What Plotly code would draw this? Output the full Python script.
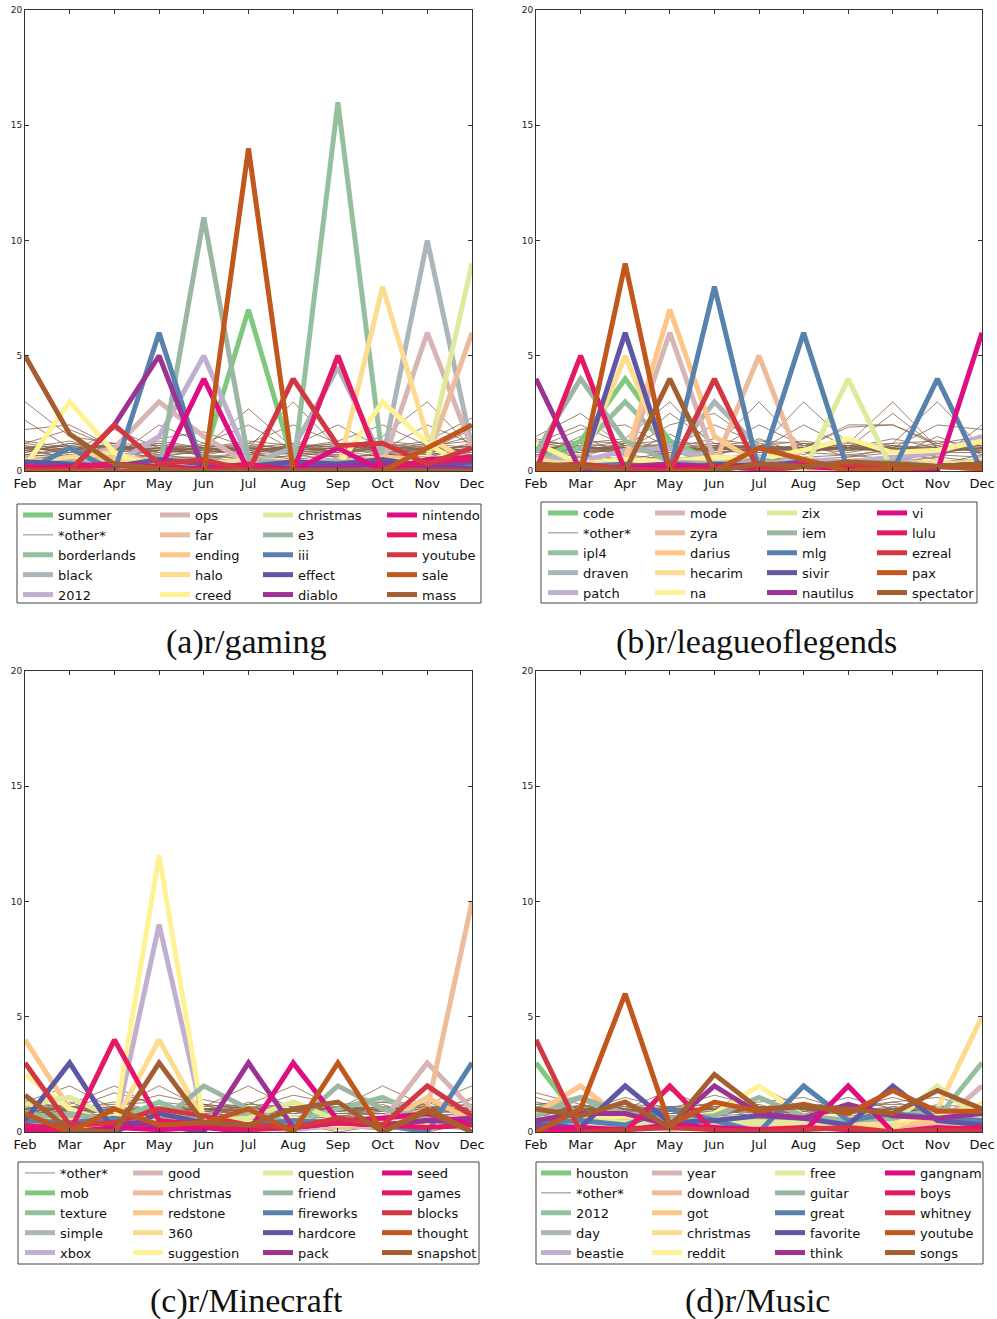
import plotly.graph_objects as go

W, H = 997, 1319

months = ["Feb", "Mar", "Apr", "May", "Jun", "Jul", "Aug", "Sep", "Oct", "Nov", "Dec"]

# ---------------- r/gaming ----------------
gaming_keywords = ["summer", "borderlands", "black", "2012", "ops", "far", "ending", "halo",
                   "creed", "christmas", "e3", "iii", "effect", "diablo", "nintendo", "mesa",
                   "youtube", "sale", "mass"]
gaming_values = [
    [0.2, 0.5, 0.3, 0.0, 0.6, 7.0, 0.4, 0.0, 0.2, 0.0, 0.0],
    [0.3, 0.2, 0.0, 0.4, 0.5, 0.3, 0.0, 16.0, 0.5, 0.2, 0.0],
    [0.3, 0.2, 0.0, 0.3, 0.2, 0.3, 1.0, 4.5, 0.5, 10.0, 1.0],
    [0.1, 0.2, 0.3, 1.5, 5.0, 0.5, 0.3, 0.2, 0.4, 0.3, 0.2],
    [0.3, 0.5, 1.0, 3.0, 1.5, 0.3, 0.2, 0.5, 0.3, 6.0, 1.0],
    [0.2, 0.3, 0.1, 0.2, 0.3, 0.2, 0.1, 0.3, 0.2, 0.5, 6.0],
    [0.5, 0.3, 0.6, 0.4, 0.3, 0.5, 0.4, 0.3, 0.6, 0.5, 0.4],
    [0.3, 0.6, 0.8, 0.2, 0.4, 0.3, 0.2, 0.0, 8.0, 1.5, 0.3],
    [0.2, 3.0, 0.8, 0.0, 0.2, 0.3, 0.4, 0.2, 3.0, 1.2, 0.0],
    [0.3, 0.2, 0.4, 0.3, 0.2, 0.5, 0.3, 0.2, 0.4, 0.5, 9.0],
    [0.2, 0.4, 0.3, 0.0, 11.0, 0.5, 0.3, 0.4, 0.2, 0.3, 0.2],
    [0.0, 1.0, 0.0, 6.0, 0.0, 0.2, 0.3, 0.2, 0.1, 0.2, 0.3],
    [0.4, 0.3, 0.2, 0.5, 0.3, 0.2, 0.4, 0.3, 0.5, 0.2, 0.4],
    [0.0, 0.0, 2.0, 5.0, 0.0, 0.2, 0.1, 0.2, 0.3, 0.2, 0.1],
    [0.1, 0.2, 0.3, 0.0, 4.0, 0.0, 0.0, 1.0, 0.0, 0.5, 0.6],
    [0.2, 0.1, 0.3, 0.2, 0.1, 0.3, 0.0, 5.0, 0.0, 0.4, 0.5],
    [0.0, 0.0, 2.0, 0.3, 0.5, 0.0, 4.0, 1.1, 1.2, 0.3, 1.0],
    [0.0, 0.0, 0.0, 0.0, 0.0, 14.0, 0.0, 0.0, 0.0, 1.0, 2.0],
    [5.0, 1.6, 0.3, 0.1, 0.0, 0.0, 0.0, 0.0, 0.0, 0.0, 0.0],
]
gaming_other = [
    [3.0, 1.5, 1.2, 0.8, 1.0, 0.9, 1.1, 0.8, 1.0, 0.7, 0.9],
    [2.2, 1.0, 0.8, 1.0, 0.9, 1.1, 0.8, 1.0, 0.9, 1.0, 0.8],
    [1.8, 2.0, 1.0, 0.7, 0.8, 1.0, 0.9, 0.7, 1.1, 0.8, 1.0],
    [1.2, 1.8, 1.0, 1.2, 0.6, 0.8, 1.0, 1.2, 0.9, 1.1, 0.7],
    [1.0, 0.8, 1.8, 1.0, 0.9, 0.7, 1.2, 1.0, 0.8, 0.9, 1.1],
    [0.9, 1.0, 0.6, 2.0, 1.2, 0.8, 0.9, 1.1, 1.0, 0.7, 0.9],
    [0.8, 1.2, 0.9, 1.4, 1.7, 1.0, 0.8, 0.9, 1.2, 1.0, 0.8],
    [1.1, 0.7, 1.0, 0.9, 1.0, 2.7, 1.0, 0.8, 0.9, 1.2, 1.0],
    [0.7, 0.9, 1.1, 0.8, 1.2, 2.0, 0.9, 1.0, 0.7, 0.8, 1.2],
    [1.0, 1.1, 0.8, 1.0, 0.7, 1.0, 3.0, 1.0, 1.1, 0.9, 0.7],
    [0.6, 0.8, 1.0, 1.1, 0.9, 1.2, 2.0, 1.2, 0.8, 1.0, 0.9],
    [1.3, 1.0, 0.7, 0.9, 1.0, 0.8, 1.1, 2.0, 1.0, 0.8, 1.1],
    [0.9, 0.6, 0.9, 1.0, 0.8, 0.9, 1.0, 1.3, 2.0, 1.1, 0.8],
    [1.0, 0.9, 1.2, 0.7, 1.1, 1.0, 0.7, 0.9, 1.5, 3.0, 1.0],
    [0.8, 1.2, 1.0, 0.9, 0.8, 1.1, 1.0, 1.2, 0.9, 2.0, 1.2],
    [1.1, 0.8, 0.9, 1.2, 1.0, 0.7, 0.9, 1.0, 1.0, 1.3, 2.3],
    [0.7, 1.0, 1.1, 0.8, 0.9, 1.0, 1.2, 0.8, 1.1, 0.9, 1.8],
    [0.5, 0.7, 0.6, 0.9, 0.7, 0.5, 0.8, 0.6, 0.7, 1.0, 1.5],
    [1.0, 0.5, 0.8, 0.6, 0.9, 0.7, 0.6, 0.9, 0.6, 0.6, 1.0],
    [0.4, 0.6, 0.5, 0.7, 0.5, 0.8, 0.5, 0.7, 0.5, 0.8, 0.6],
    [0.6, 0.4, 0.7, 0.5, 0.6, 0.4, 0.7, 0.5, 0.8, 0.5, 0.7],
    [0.3, 0.5, 0.4, 0.3, 0.4, 0.6, 0.4, 0.3, 0.5, 0.4, 0.3],
    [0.5, 0.3, 0.2, 0.4, 0.3, 0.3, 0.5, 0.4, 0.3, 0.2, 0.5],
    [0.2, 0.4, 0.3, 0.2, 0.5, 0.2, 0.3, 0.2, 0.4, 0.3, 0.2],
    [0.1, 0.2, 0.1, 0.3, 0.2, 0.1, 0.2, 0.3, 0.1, 0.2, 0.1],
    [0.9, 1.1, 1.0, 1.0, 1.1, 0.9, 1.0, 1.1, 1.0, 1.0, 0.9],
    [1.2, 0.9, 1.2, 1.1, 1.0, 1.2, 0.9, 1.0, 1.2, 0.9, 1.1],
    [0.0, 0.3, 0.6, 0.2, 0.0, 0.4, 0.2, 0.6, 0.0, 0.3, 0.4],
    [1.0, 1.3, 0.8, 1.3, 1.0, 1.3, 1.1, 0.8, 1.3, 1.1, 1.3],
    [0.7, 0.6, 0.8, 0.6, 0.6, 0.6, 0.8, 0.6, 0.7, 0.6, 0.6],
]

# ---------------- r/leagueoflegends ----------------
league_keywords = ["code", "ipl4", "draven", "patch", "mode", "zyra", "darius", "hecarim", "na",
                   "zix", "iem", "mlg", "sivir", "nautilus", "vi", "lulu", "ezreal", "pax",
                   "spectator"]
league_values = [
    [0.5, 1.3, 4.0, 1.3, 0.4, 0.3, 0.2, 0.3, 0.4, 0.2, 0.3],
    [0.3, 1.0, 3.0, 1.0, 0.3, 0.2, 0.4, 0.3, 0.2, 0.3, 0.2],
    [0.4, 0.2, 0.3, 0.5, 3.0, 1.0, 0.3, 0.2, 0.5, 0.3, 0.4],
    [0.6, 0.4, 0.9, 1.0, 0.5, 0.3, 0.5, 0.4, 0.6, 0.8, 1.5],
    [0.2, 0.4, 0.3, 6.0, 0.5, 0.2, 0.3, 0.2, 0.4, 0.3, 0.2],
    [0.3, 0.2, 0.4, 0.3, 0.3, 5.0, 0.0, 0.2, 0.3, 0.2, 0.4],
    [0.2, 0.3, 0.5, 7.0, 1.5, 0.3, 0.2, 0.4, 0.3, 0.2, 0.3],
    [0.5, 0.2, 5.0, 0.3, 0.2, 0.4, 0.3, 0.2, 0.3, 0.4, 0.2],
    [1.2, 0.3, 0.5, 0.4, 0.6, 0.5, 0.9, 1.4, 0.8, 0.9, 1.3],
    [0.3, 0.4, 0.2, 0.3, 0.4, 0.2, 0.0, 4.0, 0.0, 0.3, 0.4],
    [0.8, 4.0, 1.3, 0.4, 0.3, 0.5, 0.2, 0.3, 0.4, 0.2, 0.3],
    [0.1, 0.2, 0.3, 0.0, 8.0, 0.0, 6.0, 0.0, 0.0, 4.0, 0.0],
    [0.2, 0.0, 6.0, 0.0, 0.3, 0.2, 0.4, 0.2, 0.3, 0.2, 0.3],
    [4.0, 0.0, 0.2, 0.3, 0.2, 0.1, 0.3, 0.2, 0.1, 0.2, 0.3],
    [0.1, 0.2, 0.1, 0.2, 0.1, 0.3, 0.2, 0.1, 0.2, 0.0, 6.0],
    [0.0, 5.0, 0.0, 0.0, 0.2, 0.1, 0.3, 0.2, 0.1, 0.2, 0.1],
    [0.2, 0.3, 0.1, 0.0, 4.0, 0.0, 0.2, 0.3, 0.1, 0.2, 0.3],
    [0.1, 0.0, 9.0, 0.0, 0.0, 1.0, 0.5, 0.0, 0.1, 0.2, 0.1],
    [0.3, 0.2, 0.0, 4.0, 0.0, 0.3, 0.2, 0.4, 0.3, 0.2, 0.3],
]
league_other = [
    [1.5, 2.5, 1.0, 1.2, 0.8, 1.0, 0.9, 1.1, 0.8, 1.0, 0.9],
    [1.2, 2.0, 1.1, 0.9, 1.0, 0.8, 1.2, 0.9, 1.1, 0.8, 1.0],
    [1.0, 1.8, 2.0, 1.0, 0.9, 1.1, 0.8, 1.0, 0.9, 1.2, 0.8],
    [0.9, 1.2, 1.4, 3.0, 1.0, 0.9, 1.0, 0.8, 1.1, 0.9, 1.1],
    [1.1, 0.8, 1.0, 2.5, 1.2, 1.0, 0.9, 1.0, 0.8, 1.0, 0.9],
    [0.8, 1.0, 0.9, 2.0, 2.5, 1.1, 1.0, 0.9, 1.0, 0.8, 1.0],
    [1.0, 0.9, 1.1, 1.0, 2.0, 1.2, 0.8, 1.1, 0.9, 1.1, 0.8],
    [1.3, 1.1, 0.8, 0.9, 1.0, 3.0, 1.0, 0.9, 1.0, 0.9, 1.0],
    [0.7, 1.0, 1.0, 1.1, 0.9, 2.0, 1.1, 1.0, 0.8, 1.0, 1.1],
    [1.0, 0.8, 0.9, 0.8, 1.1, 1.0, 3.0, 1.2, 0.9, 0.8, 1.0],
    [0.9, 1.2, 1.0, 1.0, 0.8, 0.9, 2.0, 1.0, 1.1, 1.0, 0.9],
    [1.1, 0.9, 1.2, 0.9, 1.0, 1.1, 1.0, 2.0, 2.0, 1.1, 0.8],
    [0.8, 1.0, 0.8, 1.1, 0.9, 1.0, 0.9, 1.2, 3.0, 1.0, 1.0],
    [1.0, 1.1, 0.9, 1.0, 1.1, 0.8, 1.0, 1.0, 2.5, 1.0, 1.2],
    [0.9, 0.8, 1.1, 0.9, 1.0, 0.9, 1.1, 0.9, 1.2, 3.0, 1.0],
    [1.2, 1.0, 1.0, 0.8, 0.9, 1.1, 0.8, 1.1, 1.0, 2.0, 1.8],
    [1.0, 0.9, 0.8, 1.0, 1.2, 1.0, 1.0, 1.9, 2.0, 1.2, 1.5],
    [0.6, 0.7, 0.5, 0.8, 0.6, 0.7, 0.5, 0.6, 0.8, 0.5, 2.0],
    [0.5, 0.6, 0.7, 0.5, 0.7, 0.5, 0.6, 0.7, 0.5, 0.7, 0.6],
    [0.4, 0.3, 0.5, 0.6, 0.4, 0.6, 0.4, 0.5, 0.6, 0.4, 0.5],
    [0.7, 0.5, 0.4, 0.3, 0.5, 0.3, 0.5, 0.3, 0.4, 0.6, 0.4],
    [0.3, 0.4, 0.6, 0.4, 0.3, 0.4, 0.3, 0.4, 0.3, 0.3, 0.7],
    [0.2, 0.2, 0.3, 0.2, 0.2, 0.2, 0.2, 0.2, 0.2, 0.2, 0.3],
    [0.0, 0.3, 0.2, 0.5, 0.0, 0.6, 0.3, 0.0, 0.5, 0.3, 0.0],
    [1.0, 1.0, 1.0, 1.0, 1.0, 1.0, 1.0, 1.0, 1.0, 1.0, 1.0],
    [1.1, 1.3, 1.2, 1.3, 1.1, 1.3, 1.2, 1.1, 1.2, 1.3, 1.1],
    [0.8, 0.8, 0.9, 0.7, 0.8, 0.9, 0.8, 0.7, 0.9, 0.8, 0.8],
    [1.4, 1.0, 1.3, 1.0, 1.4, 1.1, 1.3, 1.0, 1.4, 1.0, 1.3],
    [0.6, 1.5, 0.7, 1.6, 0.6, 1.4, 0.7, 1.3, 0.6, 1.5, 0.7],
    [1.0, 0.6, 1.2, 0.6, 1.1, 0.5, 1.2, 0.6, 1.0, 0.6, 1.4],
]

# ---------------- r/Minecraft ----------------
minecraft_keywords = ["mob", "texture", "simple", "xbox", "good", "christmas", "redstone", "360",
                      "suggestion", "question", "friend", "fireworks", "hardcore", "pack", "seed",
                      "games", "blocks", "thought", "snapshot"]
minecraft_values = [
    [0.5, 0.3, 0.6, 0.4, 0.5, 0.3, 0.4, 0.5, 0.3, 0.4, 0.5],
    [0.8, 0.6, 0.5, 1.3, 0.5, 0.8, 0.5, 1.0, 1.5, 0.6, 0.4],
    [0.6, 0.4, 0.3, 0.5, 0.6, 0.4, 0.3, 0.5, 0.4, 0.6, 0.5],
    [0.3, 0.2, 0.1, 9.0, 0.5, 0.2, 0.1, 0.3, 0.2, 0.4, 0.3],
    [0.4, 0.3, 0.5, 0.2, 0.3, 0.4, 0.3, 0.2, 0.5, 3.0, 1.0],
    [0.3, 0.2, 0.4, 0.3, 0.2, 0.3, 0.4, 0.2, 0.3, 1.0, 10.0],
    [4.0, 1.0, 0.3, 0.5, 0.4, 0.3, 0.5, 0.3, 0.4, 1.5, 0.5],
    [0.6, 0.5, 0.4, 4.0, 0.5, 0.4, 0.3, 0.4, 0.5, 0.3, 0.4],
    [2.5, 1.0, 0.3, 12.0, 0.4, 0.4, 0.6, 0.3, 0.5, 0.4, 0.3],
    [1.2, 1.5, 0.6, 0.4, 0.5, 0.6, 1.3, 0.5, 0.4, 0.6, 0.5],
    [0.6, 0.8, 0.5, 0.4, 2.0, 1.0, 0.3, 2.0, 1.0, 0.6, 0.5],
    [0.5, 0.4, 0.6, 0.3, 0.4, 0.3, 0.5, 0.4, 0.3, 0.0, 3.0],
    [0.5, 3.0, 0.0, 0.8, 0.4, 0.3, 0.2, 0.4, 0.3, 0.5, 0.4],
    [0.2, 0.3, 0.4, 0.3, 0.0, 3.0, 0.2, 0.4, 0.3, 0.5, 0.6],
    [0.1, 0.0, 0.2, 0.1, 0.2, 0.0, 3.0, 0.5, 0.6, 0.8, 0.3],
    [0.3, 0.0, 4.0, 0.5, 0.3, 0.1, 0.2, 0.4, 0.3, 0.2, 0.3],
    [3.0, 0.3, 0.4, 1.0, 0.7, 0.3, 0.2, 0.6, 0.3, 2.0, 0.7],
    [0.8, 0.0, 1.0, 0.3, 0.4, 1.0, 0.0, 3.0, 0.0, 1.0, 0.0],
    [1.6, 0.1, 0.0, 3.0, 0.4, 0.3, 1.0, 1.3, 0.0, 0.9, 0.0],
]
minecraft_other = [
    [1.3, 2.0, 1.0, 0.9, 1.0, 0.8, 1.0, 0.9, 1.1, 0.8, 1.0],
    [1.0, 1.2, 2.0, 1.0, 0.8, 1.0, 0.9, 1.0, 0.8, 1.0, 0.9],
    [0.9, 1.0, 1.7, 1.2, 0.9, 1.1, 0.8, 0.9, 1.0, 0.9, 1.1],
    [1.1, 0.8, 1.0, 2.0, 1.0, 0.9, 1.0, 1.1, 0.9, 1.0, 0.8],
    [0.8, 0.9, 1.1, 1.6, 1.2, 1.0, 0.9, 1.0, 1.0, 1.1, 0.9],
    [1.0, 1.1, 0.9, 1.0, 1.1, 2.0, 1.0, 0.8, 0.9, 1.0, 1.0],
    [0.9, 1.0, 0.8, 0.9, 1.0, 1.2, 2.0, 1.0, 1.1, 0.9, 1.1],
    [1.2, 0.9, 1.0, 1.1, 0.9, 1.0, 1.6, 1.2, 0.9, 1.0, 0.9],
    [1.0, 1.0, 1.1, 0.9, 1.0, 0.9, 1.0, 1.0, 2.0, 1.1, 1.0],
    [0.8, 1.1, 0.9, 1.0, 1.2, 1.0, 0.8, 1.1, 1.5, 1.0, 1.2],
    [1.1, 0.9, 1.0, 0.8, 1.0, 1.1, 1.0, 0.9, 1.0, 1.2, 2.0],
    [0.6, 0.7, 0.5, 0.8, 0.6, 0.5, 0.7, 0.6, 0.5, 0.7, 1.5],
    [0.5, 0.6, 0.7, 0.5, 0.7, 0.6, 0.5, 0.7, 0.6, 0.5, 0.6],
    [0.4, 0.5, 0.4, 0.6, 0.4, 0.7, 0.4, 0.5, 0.7, 0.4, 0.5],
    [0.7, 0.4, 0.6, 0.4, 0.5, 0.4, 0.6, 0.4, 0.4, 0.6, 0.4],
    [0.3, 0.3, 0.3, 0.3, 0.3, 0.3, 0.3, 0.3, 0.3, 0.3, 0.3],
    [0.2, 0.1, 0.2, 0.2, 0.1, 0.2, 0.1, 0.2, 0.1, 0.2, 0.1],
    [0.0, 0.4, 0.0, 0.5, 0.2, 0.0, 0.4, 0.0, 0.3, 0.0, 0.4],
    [1.0, 1.0, 1.0, 1.0, 1.0, 1.0, 1.0, 1.0, 1.0, 1.0, 1.0],
    [1.2, 1.1, 1.2, 1.3, 1.1, 1.2, 1.1, 1.2, 1.3, 1.1, 1.2],
    [0.8, 0.9, 0.8, 0.8, 0.9, 0.8, 0.9, 0.8, 0.8, 0.9, 0.8],
    [1.4, 1.0, 1.3, 0.9, 1.4, 1.0, 1.2, 0.9, 1.3, 1.0, 1.4],
    [0.6, 1.3, 0.6, 1.2, 0.5, 1.3, 0.6, 1.1, 0.6, 1.3, 0.6],
    [1.0, 0.5, 1.1, 0.6, 1.2, 0.5, 1.0, 0.6, 1.2, 0.5, 1.0],
    [0.9, 0.7, 0.8, 0.7, 0.8, 0.7, 0.9, 0.7, 0.8, 0.8, 0.7],
]

# ---------------- r/Music ----------------
music_keywords = ["houston", "2012", "day", "beastie", "year", "download", "got", "christmas",
                  "reddit", "free", "guitar", "great", "favorite", "think", "gangnam", "boys",
                  "whitney", "youtube", "songs"]
music_values = [
    [3.0, 0.5, 0.3, 0.4, 0.5, 0.3, 0.4, 0.3, 0.5, 0.4, 0.3],
    [1.0, 1.5, 0.5, 0.4, 0.6, 0.5, 0.3, 0.4, 0.5, 0.6, 3.0],
    [0.5, 0.4, 0.6, 0.5, 0.4, 0.6, 0.5, 0.4, 0.6, 0.5, 0.4],
    [0.3, 0.5, 0.4, 0.3, 0.5, 0.4, 0.6, 0.3, 0.4, 0.5, 0.6],
    [0.4, 0.3, 0.5, 0.6, 0.4, 0.3, 0.5, 0.6, 0.4, 0.3, 2.0],
    [0.2, 0.4, 0.3, 0.1, 0.3, 0.2, 0.4, 0.3, 0.2, 0.4, 0.3],
    [0.8, 2.0, 0.5, 0.3, 0.4, 0.6, 0.5, 0.4, 0.3, 0.5, 0.4],
    [0.3, 0.2, 0.4, 0.3, 0.2, 0.4, 0.3, 0.5, 0.2, 1.0, 5.0],
    [0.6, 0.5, 0.7, 0.5, 0.8, 2.0, 0.7, 0.6, 0.5, 0.7, 1.2],
    [0.5, 0.6, 0.4, 0.5, 0.6, 0.4, 0.5, 0.6, 0.4, 2.0, 0.5],
    [0.7, 1.5, 0.8, 0.6, 0.7, 1.5, 0.7, 0.5, 0.6, 1.0, 0.8],
    [0.4, 0.5, 0.3, 1.0, 0.5, 0.0, 2.0, 0.5, 0.8, 0.6, 0.5],
    [0.3, 0.2, 2.0, 0.4, 0.5, 0.7, 0.6, 0.3, 2.0, 0.5, 0.3],
    [0.5, 0.8, 0.8, 0.3, 2.0, 0.8, 0.6, 1.2, 0.7, 0.6, 0.8],
    [0.1, 0.2, 0.1, 0.3, 0.2, 0.1, 0.0, 2.0, 0.0, 0.2, 0.1],
    [0.0, 0.0, 0.0, 2.0, 0.0, 0.1, 0.2, 0.1, 0.0, 0.1, 0.2],
    [4.0, 0.0, 0.1, 0.2, 0.1, 0.0, 0.1, 0.2, 0.0, 0.1, 0.0],
    [0.0, 1.0, 6.0, 0.3, 1.3, 0.9, 1.2, 0.8, 1.8, 0.9, 0.9],
    [1.0, 0.7, 1.3, 0.2, 2.5, 1.0, 1.1, 1.0, 0.8, 1.8, 1.0],
]
music_other = [
    [1.7, 1.2, 0.9, 1.0, 0.8, 1.0, 0.9, 1.0, 0.8, 0.9, 1.0],
    [1.5, 1.0, 1.1, 0.9, 1.0, 0.8, 1.0, 0.9, 1.0, 0.8, 0.9],
    [1.2, 1.4, 1.0, 0.8, 0.9, 1.0, 0.8, 1.1, 0.9, 1.0, 0.8],
    [1.0, 0.9, 1.5, 1.0, 1.0, 0.9, 1.0, 0.8, 1.0, 0.9, 1.0],
    [0.9, 1.0, 1.0, 1.8, 0.9, 1.0, 0.9, 1.0, 0.9, 1.0, 0.9],
    [1.1, 0.8, 0.9, 1.0, 1.6, 1.1, 1.0, 0.9, 1.0, 1.1, 0.8],
    [0.8, 1.0, 0.8, 0.9, 1.0, 2.0, 1.0, 1.0, 0.8, 0.9, 1.0],
    [1.0, 1.1, 1.0, 0.8, 1.1, 1.3, 1.5, 0.9, 1.1, 1.0, 0.9],
    [0.9, 0.9, 1.1, 1.0, 0.9, 1.0, 1.0, 1.5, 1.0, 0.9, 1.1],
    [1.0, 1.0, 0.9, 1.1, 1.0, 0.9, 1.1, 1.0, 1.5, 1.0, 1.0],
    [0.8, 1.1, 1.0, 0.9, 1.1, 1.0, 0.9, 1.1, 1.3, 1.5, 1.0],
    [0.6, 0.5, 0.7, 0.6, 0.5, 0.7, 0.6, 0.5, 0.7, 0.6, 1.3],
    [0.5, 0.6, 0.5, 0.7, 0.6, 0.5, 0.7, 0.6, 0.5, 0.7, 0.6],
    [0.4, 0.3, 0.5, 0.4, 0.6, 0.4, 0.5, 0.4, 0.6, 0.4, 0.5],
    [0.7, 0.4, 0.4, 0.5, 0.4, 0.6, 0.4, 0.6, 0.4, 0.5, 0.4],
    [0.3, 0.2, 0.3, 0.2, 0.3, 0.2, 0.3, 0.2, 0.3, 0.2, 0.3],
    [0.1, 0.1, 0.2, 0.1, 0.1, 0.2, 0.1, 0.1, 0.2, 0.1, 0.1],
    [0.0, 0.5, 0.0, 0.4, 0.0, 0.5, 0.0, 0.4, 0.0, 0.5, 0.0],
    [1.0, 1.0, 1.0, 1.0, 1.0, 1.0, 1.0, 1.0, 1.0, 1.0, 1.0],
    [1.2, 1.1, 1.2, 1.1, 1.2, 1.1, 1.2, 1.1, 1.2, 1.1, 1.2],
    [0.8, 0.8, 0.9, 0.8, 0.8, 0.9, 0.8, 0.8, 0.9, 0.8, 0.8],
    [1.3, 0.9, 1.2, 0.9, 1.3, 0.9, 1.2, 0.9, 1.3, 0.9, 1.2],
    [0.6, 1.2, 0.6, 1.1, 0.6, 1.2, 0.6, 1.1, 0.6, 1.2, 0.6],
    [0.9, 0.6, 1.0, 0.5, 1.1, 0.6, 1.0, 0.5, 1.1, 0.6, 0.9],
    [0.7, 0.7, 0.8, 0.7, 0.7, 0.8, 0.7, 0.7, 0.8, 0.7, 0.7],
]

y_ticks = [0, 5, 10, 15, 20]
OTHER_LABEL = "*other*"

# ---------------- styling ----------------
ACCENT = [(127, 201, 127), (190, 174, 212), (253, 192, 134), (255, 255, 153),
          (56, 108, 176), (240, 2, 127), (191, 91, 23), (102, 102, 102)]


def palette(n):
    out = []
    for i in range(n):
        t = (len(ACCENT) - 1) * i / (n - 1)
        k = min(int(t), len(ACCENT) - 2)
        f = t - k
        a, b = ACCENT[k], ACCENT[k + 1]
        c = [round(a[j] + (b[j] - a[j]) * f) for j in range(3)]
        out.append("rgb(%d,%d,%d)" % tuple(c))
    return out


PAL = palette(21)
OTHER_COLOR = PAL[19]
THICK = 5
THIN = 0.8


def fx(px):  # page pixel -> paper x fraction
    return px / W


def fy(py):  # page pixel -> paper y fraction
    return 1 - py / H


panels = [
    dict(keys=gaming_keywords, vals=gaming_values, other=gaming_other, other_pos=1,
         caption="(a)r/gaming", box=(25, 10, 472, 471),
         leg_cols=[23, 160, 263, 387], leg_row0=515, leg_box=(17, 504, 481, 603), cap=(246, 642)),
    dict(keys=league_keywords, vals=league_values, other=league_other, other_pos=1,
         caption="(b)r/leagueoflegends", box=(536, 10, 982, 471),
         leg_cols=[548, 655, 767, 877], leg_row0=513, leg_box=(541, 502, 977, 603), cap=(756, 642)),
    dict(keys=minecraft_keywords, vals=minecraft_values, other=minecraft_other, other_pos=0,
         caption="(c)r/Minecraft", box=(25, 671, 472, 1132),
         leg_cols=[25, 133, 263, 382], leg_row0=1173, leg_box=(18, 1162, 479, 1264), cap=(246, 1301)),
    dict(keys=music_keywords, vals=music_values, other=music_other, other_pos=1,
         caption="(d)r/Music", box=(536, 671, 982, 1132),
         leg_cols=[541, 652, 775, 885], leg_row0=1173, leg_box=(536, 1162, 983, 1264), cap=(757, 1301)),
]

fig = go.Figure()
layout = dict(
    width=W, height=H, margin=dict(l=0, r=0, t=0, b=0, autoexpand=False),
    paper_bgcolor="white", plot_bgcolor="white",
    font=dict(family="DejaVu Sans", color="#111"),
    shapes=[], annotations=[],
)

axis_common = dict(showline=True, linecolor="#333", linewidth=1, mirror="ticks",
                   ticks="inside", ticklen=4, tickcolor="#333", tickwidth=1,
                   showgrid=False, zeroline=False, automargin=False,
                   ticklabeloverflow="allow")


def legend_name(n):
    return "legend" if n == 1 else "legend%d" % n


for p, pn in enumerate(panels):
    xa = "x" if p == 0 else "x%d" % (p + 1)
    ya = "y" if p == 0 else "y%d" % (p + 1)
    order = list(pn["keys"])
    order.insert(pn["other_pos"], OTHER_LABEL)
    pos = {name: k for k, name in enumerate(order)}

    def leg_of(name):
        k = pos[name]
        return legend_name(4 * p + k // 5 + 1), k

    # thin "other" lines
    lg, rank = leg_of(OTHER_LABEL)
    for j, series in enumerate(pn["other"]):
        fig.add_trace(go.Scatter(
            x=months, y=series, mode="lines", name=OTHER_LABEL,
            line=dict(color=OTHER_COLOR, width=THIN),
            showlegend=(j == 0), legend=lg, legendrank=rank,
            xaxis=xa, yaxis=ya, hoverinfo="skip"))
    # thick keyword lines
    for i, (key, series) in enumerate(zip(pn["keys"], pn["vals"])):
        lg, rank = leg_of(key)
        fig.add_trace(go.Scatter(
            x=months, y=series, mode="lines", name=key,
            line=dict(color=PAL[i], width=THICK),
            legend=lg, legendrank=rank, xaxis=xa, yaxis=ya))

    x0, y0, x1, y1 = pn["box"]
    layout["xaxis" if p == 0 else "xaxis%d" % (p + 1)] = dict(
        axis_common, domain=[fx(x0), fx(x1)], anchor=ya, type="category",
        range=[0, 10], tickfont=dict(size=13, family="DejaVu Sans", color="#111"))
    layout["yaxis" if p == 0 else "yaxis%d" % (p + 1)] = dict(
        axis_common, domain=[fy(y1), fy(y0)], anchor=xa, range=[0, 20],
        tickvals=y_ticks, tickfont=dict(size=9, family="DejaVu Sans", color="#222"))

    for c, cx in enumerate(pn["leg_cols"]):
        layout[legend_name(4 * p + c + 1)] = dict(
            x=fx(cx - 5), y=fy(pn["leg_row0"] - 15), xanchor="left", yanchor="top",
            bgcolor="rgba(0,0,0,0)", borderwidth=0, tracegroupgap=0,
            traceorder="normal", itemwidth=30,
            font=dict(family="DejaVu Sans", size=13, color="#111"))

    bx0, by0, bx1, by1 = pn["leg_box"]
    layout["shapes"].append(dict(type="rect", xref="paper", yref="paper",
                                 x0=fx(bx0), x1=fx(bx1), y0=fy(by1), y1=fy(by0),
                                 line=dict(color="#444", width=1), fillcolor="rgba(0,0,0,0)"))
    cx, cy = pn["cap"]
    layout["annotations"].append(dict(text=pn["caption"], xref="paper", yref="paper",
                                      x=fx(cx), y=fy(cy), xanchor="center", yanchor="middle",
                                      showarrow=False,
                                      font=dict(family="Liberation Serif", size=34, color="#111")))

fig.update_layout(**layout)
# remove the browser's default 8px page margin so the figure fills the window exactly
fig.write_html("out.html", config={"displayModeBar": False},
               post_script="document.body.style.margin='0px';document.body.style.overflow='hidden';")
